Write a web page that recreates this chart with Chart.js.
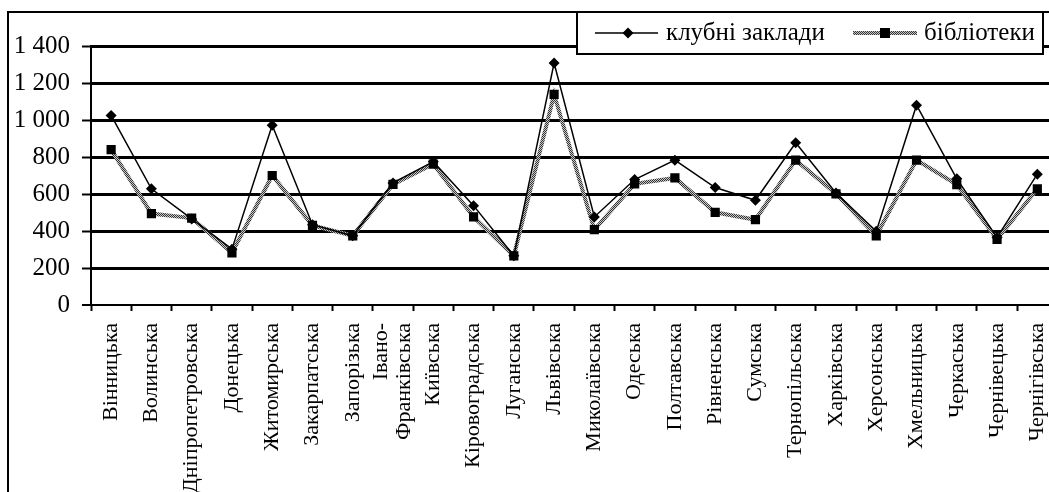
<!DOCTYPE html>
<html>
<head>
<meta charset="utf-8">
<script src="https://cdn.jsdelivr.net/npm/chart.js@4/dist/chart.umd.min.js"></script>
<style>
  html, body { margin: 0; padding: 0; background: #fff; overflow: hidden; }
  #wrap { position: relative; width: 1049px; height: 492px; overflow: hidden; }
  #chart { position: absolute; left: 0; top: 0; }
</style>
</head>
<body>
<div id="wrap"><canvas id="chart" width="1076" height="492"></canvas></div>
<script>
var regions = ['Вінницька', 'Волинська', 'Дніпропетровська', 'Донецька', 'Житомирська', 'Закарпатська',
  'Запорізька', ['Івано-', 'Франківська'], 'Київська', 'Кіровоградська', 'Луганська', 'Львівська',
  'Миколаївська', 'Одеська', 'Полтавська', 'Рівненська', 'Сумська', 'Тернопільська',
  'Харківська', 'Херсонська', 'Хмельницька', 'Черкаська', 'Чернівецька', 'Чернігівська'];

var clubs = [1025, 628, 465, 302, 972, 434, 374, 660, 775, 537, 266, 1308,
  476, 678, 783, 635, 566, 877, 605, 398, 1080, 682, 365, 707];

var libraries = [840, 494, 470, 282, 700, 430, 374, 652, 762, 476, 266, 1138,
  407, 655, 687, 501, 461, 783, 601, 374, 783, 651, 354, 628];

var seriesNames = ['клубні заклади', 'бібліотеки'];
var yMin = 0;
var yMax = 1400;
var yStep = 200;

var serif = '"Liberation Serif", "Times New Roman", serif';
var xFontSize = 22;

// grey checkered texture for the library line
function makeTexture() {
  const c = document.createElement('canvas');
  c.width = 2;
  c.height = 2;
  const g = c.getContext('2d');
  g.fillStyle = '#c8c8c8';
  g.fillRect(0, 0, 2, 2);
  g.fillStyle = '#333';
  g.fillRect(0, 0, 1, 1);
  g.fillRect(1, 1, 1, 1);
  return g.createPattern(c, 'repeat');
}

const ctx = document.getElementById('chart').getContext('2d');
const texture = makeTexture();

function formatTick(v) {
  if (v >= 1000) {
    return Math.floor(v / 1000) + ' ' + String(v % 1000).padStart(3, '0');
  }
  return String(v);
}

// outer frame of the chart object (only top and left edges are visible)
const framePlugin = {
  id: 'frame',
  beforeDraw(chart) {
    const c = chart.ctx;
    c.save();
    c.strokeStyle = '#000';
    c.lineWidth = 2;
    c.beginPath();
    c.moveTo(chart.width, 12);
    c.lineTo(8, 12);
    c.lineTo(8, chart.height);
    c.stroke();
    c.restore();
  },
};

// two-line labels are centred on their tick, as in the original
const splitLabelPlugin = {
  id: 'splitLabels',
  afterDraw(chart) {
    const sc = chart.scales.x;
    const c = chart.ctx;
    regions.forEach((lab, i) => {
      if (!Array.isArray(lab)) return;
      const x = sc.getPixelForTick(i);
      const y = sc.top + 6 + 12;
      const lh = xFontSize * 1.05;
      c.save();
      c.translate(x, y);
      c.rotate(-Math.PI / 2);
      c.font = xFontSize + 'px ' + serif;
      c.fillStyle = '#000';
      c.textAlign = 'right';
      c.textBaseline = 'middle';
      lab.forEach((line, k) => {
        c.fillText(line, 0, (k - (lab.length - 1) / 2) * lh);
      });
      c.restore();
    });
  },
};

// legend box drawn over the plot, like the original
const legendPlugin = {
  id: 'boxLegend',
  afterDraw(chart) {
    const c = chart.ctx;
    c.save();
    c.fillStyle = '#fff';
    c.fillRect(577, 12, 466, 42);
    c.strokeStyle = '#000';
    c.lineWidth = 2;
    c.strokeRect(577, 12, 466, 42);

    const cy = 33;
    // club sample
    c.lineWidth = 1.5;
    c.beginPath();
    c.moveTo(595, cy);
    c.lineTo(658, cy);
    c.stroke();
    c.fillStyle = '#000';
    c.beginPath();
    c.moveTo(628, cy - 5.5);
    c.lineTo(633.5, cy);
    c.lineTo(628, cy + 5.5);
    c.lineTo(622.5, cy);
    c.closePath();
    c.fill();

    // library sample
    c.strokeStyle = texture;
    c.lineWidth = 4;
    c.beginPath();
    c.moveTo(853, cy);
    c.lineTo(917, cy);
    c.stroke();
    c.fillStyle = '#000';
    c.fillRect(880, cy - 5, 10, 10);

    c.font = '25px ' + serif;
    c.textBaseline = 'middle';
    c.fillStyle = '#000';
    c.fillText(seriesNames[0], 666, cy);
    c.fillText(seriesNames[1], 924, cy);
    c.restore();
  },
};

new Chart(ctx, {
  type: 'line',
  data: {
    labels: regions,
    datasets: [{
      label: seriesNames[0],
      data: clubs,
      borderColor: '#000',
      backgroundColor: '#000',
      borderWidth: 1.5,
      pointStyle: 'rectRot',
      pointRadius: 5.5,
      pointBorderWidth: 0,
      fill: false,
      tension: 0,
    }, {
      label: seriesNames[1],
      data: libraries,
      borderColor: texture,
      backgroundColor: '#000',
      borderWidth: 4,
      pointStyle: 'rect',
      pointRadius: 6.5,
      pointBorderWidth: 0,
      fill: false,
      tension: 0,
    }],
  },
  options: {
    responsive: false,
    animation: false,
    layout: {
      padding: {top: 46, left: 0, right: 13, bottom: 0},
    },
    plugins: {
      legend: {display: false},
      tooltip: {enabled: false},
    },
    scales: {
      x: {
        offset: true,
        afterFit(scale) {
          scale.height = 187;
        },
        grid: {
          offset: true,
          drawOnChartArea: false,
          drawTicks: true,
          tickLength: 6,
          tickWidth: 2,
          tickColor: '#000',
          color: '#000',
        },
        border: {display: true, color: '#000', width: 2},
        ticks: {
          autoSkip: false,
          minRotation: 90,
          maxRotation: 90,
          padding: 12,
          color: (c) => (Array.isArray(regions[c.index]) ? 'rgba(0,0,0,0)' : '#000'),
          font: {family: serif, size: xFontSize},
        },
      },
      y: {
        min: yMin,
        max: yMax,
        afterFit(scale) {
          scale.width = 91;
        },
        grid: {
          color: '#000',
          lineWidth: (c) => (c.tick && c.tick.value === 0 ? 0 : 3),
          drawTicks: true,
          tickLength: 9,
          tickWidth: 2,
          tickColor: '#000',
        },
        border: {display: true, color: '#000', width: 2},
        ticks: {
          stepSize: yStep,
          padding: 12,
          color: '#000',
          font: {family: serif, size: 25},
          callback: (v) => formatTick(v),
        },
      },
    },
  },
  plugins: [framePlugin, splitLabelPlugin, legendPlugin],
});
</script>
</body>
</html>
